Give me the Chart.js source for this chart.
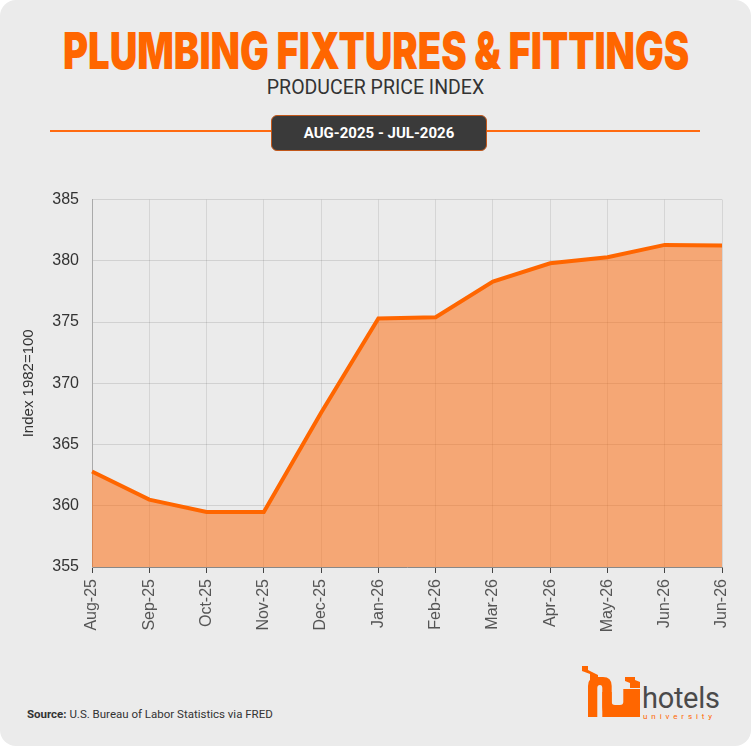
<!DOCTYPE html>
<html>
<head>
<meta charset="utf-8">
<script src="https://cdn.jsdelivr.net/npm/chart.js@4.4.1/dist/chart.umd.min.js"></script>
<style>
  html, body { margin: 0; padding: 0; background: #ffffff; }
  body { width: 751px; height: 746px; overflow: hidden; }
  .card {
    position: absolute; left: 0; top: 0; width: 751px; height: 746px;
    background: #ebebeb; border-radius: 16px; overflow: hidden;
    font-family: Roboto, "Liberation Sans", sans-serif;
  }
  .title {
    position: absolute; left: 375.5px; top: 24px; white-space: nowrap;
    font-family: Inter, sans-serif; font-weight: 900;
    font-size: 51px; line-height: 54px; color: #ff6600; transform-origin: left center;
  }
  .subtitle {
    position: absolute; left: 0; top: 77px; width: 751px; text-align: center;
    font-size: 19.5px; line-height: 22px; font-weight: 400; color: #333;
  }
  .rule {
    position: absolute; left: 50px; top: 130px; width: 650px; height: 2px; background: #ff6a10;
  }
  .badge {
    position: absolute; left: 271px; top: 115px; width: 214px; height: 34px;
    background: #3a3a3a; border: 1px solid #c2571a; border-radius: 6px;
    color: #fff; font-size: 15px; font-weight: 700; text-align: center; line-height: 34px;
  }
  .chartbox { position: absolute; left: 0; top: 177px; width: 751px; height: 470px; }
  .source {
    position: absolute; left: 27px; top: 707px; font-size: 11.5px; color: #333;
  }
  .source b { font-weight: 700; }
  .logo { position: absolute; left: 580px; top: 662px; width: 150px; height: 62px; }
</style>
</head>
<body>
<div class="card">
  <div class="title" id="titleText">PLUMBING FIXTURES &amp; FITTINGS</div>
  <div class="subtitle">PRODUCER PRICE INDEX</div>
  <div class="rule"></div>
  <div class="badge">AUG-2025 - JUL-2026</div>
  <div class="chartbox"><canvas id="ppiChart"></canvas></div>
  <div class="source"><b>Source:</b> U.S. Bureau of Labor Statistics via FRED</div>
  <svg class="logo" viewBox="0 0 150 62" width="150" height="62">
    <polygon points="2,4 8,4 8,8 18,13 18,19 10,19 10,12 2,9" fill="#ff6600"/>
    <polygon points="45,15 55,15 55,18 60,20 60,26 50,26 50,21 45,19" fill="#ff6600"/>
    <path d="M8 55 V24 Q8 15 17 15 H23 Q31.7 15 31.7 24 V55 H22.3 V26 Q22.3 23 20 23 Q17.3 23 17.3 26 V55 Z" fill="#ff6600"/>
    <path d="M22.3 30 H31.7 V40 Q31.7 43 35 43 H40 Q43.3 43 43.3 40 V27 H60 V55 H32 Q22.3 55 22.3 45 Z" fill="#ff6600"/>
    <text x="62" y="46" font-family="Roboto, sans-serif" font-size="29" font-weight="400" fill="#4a4a4a" letter-spacing="-0.3">hotels</text>
    <text x="63" y="57" font-family="Roboto, sans-serif" font-size="8" fill="#ff6600" letter-spacing="3.9">university</text>
  </svg>
</div>
<script>
// month labels as they appear on the x axis (last one reads Jun-26 in the source)
const months = ['Aug-25', 'Sep-25', 'Oct-25', 'Nov-25', 'Dec-25', 'Jan-26', 'Feb-26', 'Mar-26', 'Apr-26', 'May-26', 'Jun-26', 'Jun-26'];
// PPI, index 1982=100
const ppiValues = [362.8, 360.5, 359.5, 359.5, 367.6, 375.3, 375.4, 378.3, 379.8, 380.3, 381.3, 381.25];
const yTicks = [355, 360, 365, 370, 375, 380, 385];

// squeeze the heavy title to the width it has in the original, centred on the card
const t = document.getElementById('titleText');
const k = 626 / t.offsetWidth;
t.style.transform = 'translateX(-313px) scaleX(' + k + ')';

const ctx = document.getElementById('ppiChart').getContext('2d');

new Chart(ctx, {
    type: 'line',
    data: {
        labels: months,
        datasets: [{
            data: ppiValues,
            borderColor: '#ff6600',
            borderWidth: 4,
            backgroundColor: 'rgba(255, 100, 0, 0.5)',
            fill: 'start',
            pointRadius: 0,
            tension: 0
        }]
    },
    options: {
        responsive: true,
        maintainAspectRatio: false,
        animation: false,
        layout: { padding: { left: 20, right: 29, top: 14, bottom: 0 } },
        plugins: {
            legend: { display: false },
            tooltip: { enabled: false }
        },
        scales: {
            x: {
                grid: { color: 'rgba(0,0,0,0.09)', tickColor: '#444', tickLength: 6, offset: false },
                border: { color: '#888' },
                ticks: {
                    color: '#555',
                    padding: 6,
                    font: { family: 'Liberation Sans', size: 16 },
                    maxRotation: 90, minRotation: 90,
                    autoSkip: false
                },
                afterFit: scale => { scale.height = 80; }
            },
            y: {
                min: 355,
                max: 385,
                afterBuildTicks: scale => { scale.ticks = yTicks.map(v => ({ value: v })); },
                grid: { color: 'rgba(0,0,0,0.11)', drawTicks: false },
                border: { color: '#aaa' },
                ticks: {
                    color: '#333',
                    padding: 13,
                    font: { family: 'Liberation Sans', size: 16 }
                },
                title: {
                    display: true,
                    text: 'Index 1982=100',
                    color: '#333',
                    font: { family: 'Liberation Sans', size: 15 },
                    padding: { top: 0, bottom: 4 }
                },
                afterFit: scale => { scale.width = 72; }
            }
        }
    }
});
</script>
</body>
</html>
